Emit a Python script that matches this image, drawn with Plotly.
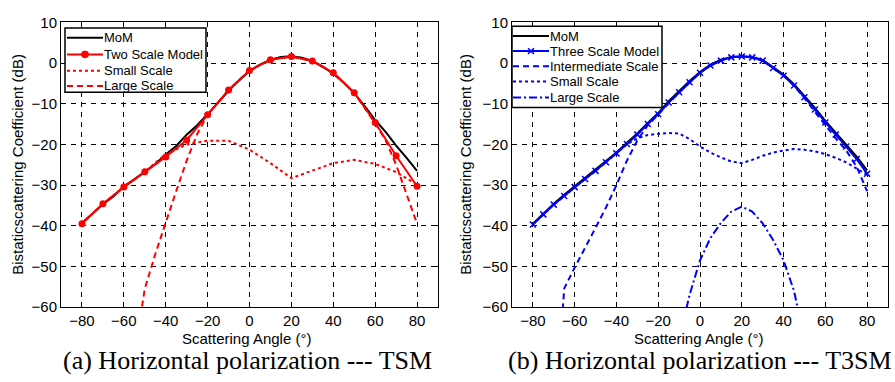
import plotly.graph_objects as go

W, H = 895, 382

# ---------------- data: left panel (TSM) ----------------
ang5 = [-80, -75, -70, -65, -60, -55, -50, -45, -40, -35, -30, -25, -20, -15, -10, -5,
        0, 5, 10, 15, 20, 25, 30, 35, 40, 45, 50, 55, 60, 65, 70, 75, 80]
ang10 = [-80, -70, -60, -50, -40, -30, -20, -10, 0, 10, 20, 30, 40, 50, 60, 70, 80]

mom_a = [-39.3, -37.0, -34.7, -32.8, -30.3, -28.6, -26.6, -24.8, -22.5, -20.4, -17.6, -15.3,
         -12.6, -9.8, -6.8, -4.3, -2.0, -0.4, 0.8, 1.5, 1.7, 1.3, 0.5, -0.9, -2.6, -4.8,
         -7.4, -10.6, -14.0, -16.9, -20.3, -23.3, -26.5]
tsm_a = [-39.5, -34.6, -30.5, -26.7, -23.1, -18.9, -12.7, -6.6, -1.8, 0.8, 1.6, 0.5,
         -2.4, -7.3, -14.6, -22.8, -30.3]
small_a = [-39.5, -34.6, -30.5, -26.7, -22.4, -20.0, -19.1, -19.1, -21.3, -24.6, -28.3,
           -26.4, -24.6, -23.8, -24.8, -26.8, -29.9]
large_ang_a = [-55, -50, -45, -40, -35, -30, -25, -20, -10, 0, 10, 20, 30, 40, 50, 60,
               65, 70, 75, 80]
large_a = [-72.0, -55.5, -47.0, -39.0, -31.5, -24.0, -17.5, -12.7, -6.6, -1.8, 0.8, 1.6,
           0.5, -2.4, -7.3, -14.8, -19.0, -25.0, -32.0, -39.5]

# ---------------- data: right panel (T3SM) ----------------
mom_b = [-39.5, -37.0, -34.6, -32.4, -30.3, -28.3, -26.3, -24.2, -22.0, -19.6, -17.3, -14.7,
         -12.3, -9.4, -6.9, -4.4, -2.2, -0.4, 0.8, 1.5, 1.7, 1.5, 0.8, -1.0, -2.8, -5.2,
         -8.0, -11.0, -14.2, -17.2, -20.0, -23.0, -26.4]
t3sm_b = [-39.7, -37.2, -34.8, -32.7, -30.5, -28.5, -26.5, -24.4, -22.2, -19.9, -17.6, -15.0,
          -12.6, -9.7, -7.2, -4.7, -2.4, -0.6, 0.6, 1.4, 1.6, 1.4, 0.6, -1.2, -3.1, -5.5,
          -8.4, -11.4, -14.6, -17.6, -20.5, -23.6, -27.2]
inter_ang_b = [-66, -65, -60, -55, -50, -45, -40, -35, -30, -25, -20, -15, -10, -5, 0, 5, 10,
               15, 20, 25, 30, 35, 40, 45, 50, 55, 60, 65, 70, 75, 80]
inter_b = [-63.0, -55.4, -50.3, -45.5, -40.5, -35.5, -30.0, -24.0, -19.0, -15.3, -12.6, -9.7,
           -7.2, -4.7, -2.4, -0.6, 0.6, 1.4, 1.6, 1.4, 0.6, -1.2, -3.1, -5.6, -8.6, -12.0,
           -15.4, -18.5, -21.5, -25.5, -31.5]
small_b = [-39.7, -37.2, -34.8, -32.7, -30.5, -28.5, -26.5, -24.4, -22.2, -20.0, -18.5, -17.7,
           -17.4, -17.2, -17.3, -18.7, -20.5, -22.0, -23.2, -24.2, -24.6, -23.8, -22.8, -22.0,
           -21.5, -21.1, -21.3, -21.7, -22.4, -23.3, -24.4, -26.0, -27.5]
large_ang_b = [-10, -5, 0, 5, 10, 15, 20, 25, 30, 35, 40, 45, 50]
large_b = [-68.0, -57.0, -48.5, -43.0, -39.3, -36.5, -35.3, -36.5, -39.4, -43.5, -48.5,
           -56.0, -68.0]

x_ticks = [-80, -60, -40, -20, 0, 20, 40, 60, 80]
y_ticks = [10, 0, -10, -20, -30, -40, -50, -60]

legend_a = ["MoM", "Two Scale Model", "Small Scale", "Large Scale"]
legend_b = ["MoM", "Three Scale Model", "Intermediate Scale", "Small Scale", "Large Scale"]

RED = "#ff0000"
BLUE = "#0000ff"
DASH = "6px,4px"
DASHDOT = "8px,3px,2px,3px"

# style per legend entry: (color, width, dash, marker)
sty_a = [("black", 2, "solid", None), (RED, 2, "solid", "circle"),
         (RED, 2, "dot", None), (RED, 2, DASH, None)]
sty_b = [("black", 2, "solid", None), (BLUE, 2, "solid", "x"),
         (BLUE, 2, DASH, None), (BLUE, 2, "dot", None), (BLUE, 2, DASHDOT, None)]

fig = go.Figure()

def add(x, y, sty, name, ax, ay, mode="lines"):
    color, width, dash, marker = sty
    kw = {}
    if marker == "circle":
        mode = "lines+markers"
        kw["marker"] = dict(symbol="circle", size=7, color=color)
    elif marker == "x":
        mode = "lines+markers"
        kw["marker"] = dict(symbol="x-thin", size=6, color=color, line=dict(color=color, width=1.5))
    fig.add_trace(go.Scatter(x=x, y=y, mode=mode, name=name, line=dict(color=color, width=width, dash=dash),
                             xaxis=ax, yaxis=ay, showlegend=False, **kw))

add(ang5, mom_a, sty_a[0], legend_a[0], "x", "y")
add(ang10, tsm_a, sty_a[1], legend_a[1], "x", "y")
add(ang10, small_a, sty_a[2], legend_a[2], "x", "y")
add(large_ang_a, large_a, sty_a[3], legend_a[3], "x", "y")

add(ang5, mom_b, sty_b[0], legend_b[0], "x2", "y2")
add(ang5, t3sm_b, sty_b[1], legend_b[1], "x2", "y2")
add(inter_ang_b, inter_b, sty_b[2], legend_b[2], "x2", "y2")
add(ang5, small_b, sty_b[3], legend_b[3], "x2", "y2")
add(large_ang_b, large_b, sty_b[4], legend_b[4], "x2", "y2")

TICKFONT = dict(family="Liberation Sans, Arial", size=15, color="black")
common_x = dict(range=[-90, 90], tickvals=x_ticks, showgrid=True, gridcolor="black", griddash="5px,5px",
                gridwidth=1, showline=True, linecolor="black", linewidth=1, mirror="ticks",
                ticks="inside", ticklen=5, tickcolor="black", zeroline=False, tickfont=TICKFONT)
common_y = dict(range=[-60, 10], tickvals=y_ticks, showgrid=True, gridcolor="black", griddash="5px,5px",
                gridwidth=1, showline=True, linecolor="black", linewidth=1, mirror="ticks",
                ticks="inside", ticklen=5, tickcolor="black", zeroline=False, tickfont=TICKFONT)

yd = [1 - 312 / H, 1 - 14 / H]
fig.update_layout(
    width=W, height=H, margin=dict(l=0, r=0, t=0, b=0),
    paper_bgcolor="white", plot_bgcolor="white", showlegend=False,
    xaxis=dict(domain=[61 / W, 438 / W], anchor="y", **common_x),
    yaxis=dict(domain=yd, anchor="x", **common_y),
    xaxis2=dict(domain=[512 / W, 888 / W], anchor="y2", **common_x),
    yaxis2=dict(domain=yd, anchor="x2", **common_y),
)

# ---------------- legends (drawn as boxes + samples + text) ----------------
LEGFONT = dict(family="Liberation Sans, Arial", size=13, color="black")

def px(x):
    return x / W

def py(y):
    return 1 - y / H

def legend_box(names, styles, box, line_x0, line_x1, text_x, ys):
    bx0, by0, bx1, by1 = box
    fig.add_shape(type="rect", xref="paper", yref="paper", x0=px(bx0), x1=px(bx1), y0=py(by1), y1=py(by0),
                  fillcolor="white", line=dict(color="black", width=1.5), layer="above")
    for name, (color, width, dash, marker), yy in zip(names, styles, ys):
        fig.add_shape(type="line", xref="paper", yref="paper", x0=px(line_x0), x1=px(line_x1),
                      y0=py(yy), y1=py(yy), line=dict(color=color, width=width, dash=dash), layer="above")
        xc = (line_x0 + line_x1) / 2
        if marker == "circle":
            r = 3.5
            fig.add_shape(type="circle", xref="paper", yref="paper", x0=px(xc - r), x1=px(xc + r),
                          y0=py(yy + r), y1=py(yy - r), fillcolor=color, line=dict(color=color, width=1),
                          layer="above")
        elif marker == "x":
            r = 3
            for s in (1, -1):
                fig.add_shape(type="line", xref="paper", yref="paper", x0=px(xc - r), x1=px(xc + r),
                              y0=py(yy - s * r), y1=py(yy + s * r), line=dict(color=color, width=1.5),
                              layer="above")
        fig.add_annotation(xref="paper", yref="paper", x=px(text_x), y=py(yy), text=name, showarrow=False,
                           xanchor="left", yanchor="middle", font=LEGFONT)

legend_box(legend_a, sty_a, (65, 20, 206, 87), 67, 103, 102, [30, 47.5, 64.5, 80.5])
legend_box(legend_b, sty_b, (512, 18, 662, 103), 513, 549, 548, [28.3, 44, 60, 76, 92.5])

LABFONT = dict(family="Liberation Sans, Arial", size=15, color="black")
CAPFONT = dict(family="Liberation Serif, Times New Roman", size=26, color="black")
ann = [
    dict(text="Scattering Angle (°)", x=246 / W, y=1 - 345 / H, font=LABFONT),
    dict(text="Scattering Angle (°)", x=698 / W, y=1 - 345 / H, font=LABFONT),
    dict(text="Bistaticscattering Coefficient (dB)", x=18 / W, y=1 - 163 / H, textangle=-90, font=LABFONT),
    dict(text="Bistaticscattering Coefficient (dB)", x=466 / W, y=1 - 163 / H, textangle=-90, font=LABFONT),
    dict(text="(a) Horizontal polarization --- TSM", x=247 / W, y=1 - 368 / H, font=CAPFONT),
    dict(text="(b) Horizontal polarization --- T3SM", x=700 / W, y=1 - 368 / H, font=CAPFONT),
]
for a in ann:
    fig.add_annotation(xref="paper", yref="paper", showarrow=False, xanchor="center", yanchor="middle", **a)

fig.write_html("out.html")
